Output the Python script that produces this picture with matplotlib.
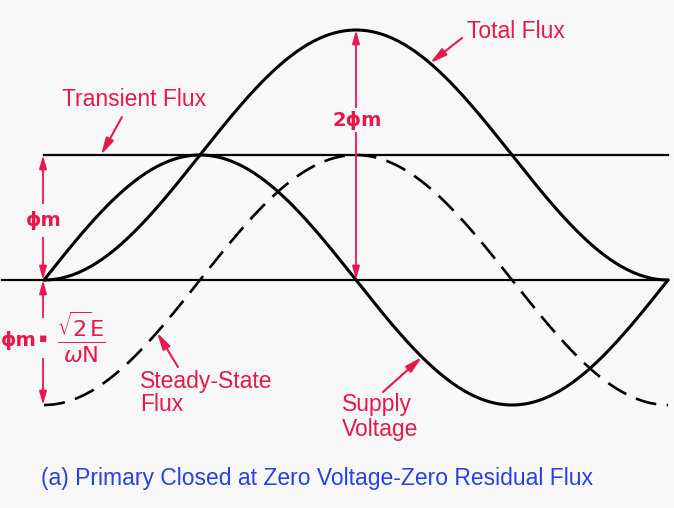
import numpy as np
import matplotlib.pyplot as plt

RED = '#e8184c'
BLUE = '#2840e6'
BG = '#f8f8f8'

# curve parameters (one full cycle, amplitude phi_m)
phi_m = 1.0
theta = np.linspace(0, 2 * np.pi, 600)
supply_voltage = phi_m * np.sin(theta)
steady_flux = -phi_m * np.cos(theta)
transient_flux = phi_m * np.ones_like(theta)
total_flux = transient_flux + steady_flux

caption = '(a) Primary Closed at Zero Voltage-Zero Residual Flux'

# picture pixel -> data coordinates (origin at x=44, y=280; 624 px per cycle, 125 px per phi_m)
X0, XP, Y0, YP = 44, 624, 280, 125


def px(x, y):
    return ((x - X0) / XP * 2 * np.pi, (Y0 - y) / YP)


def tx(x):
    return (x - X0) / XP * 2 * np.pi


fig = plt.figure(figsize=(6.74, 5.08), dpi=100, facecolor=BG)
ax = fig.add_axes([0, 0, 1, 1])
ax.set_facecolor(BG)
ax.set_xlim(tx(0), tx(674))
ax.set_ylim(px(0, 508)[1], px(0, 0)[1])
ax.axis('off')

ax.plot(theta, total_flux, color='black', lw=2.2, solid_capstyle='round')
ax.plot(theta, supply_voltage, color='black', lw=2.2, solid_capstyle='round')
ax.plot(theta, steady_flux, color='black', lw=1.9, linestyle=(0, (8, 4)))
ax.plot(theta, transient_flux, color='black', lw=1.6)
ax.plot([tx(2), 2 * np.pi], [0, 0], color='black', lw=1.6)

arrow = dict(arrowstyle='-|>,head_length=1.0,head_width=0.25', color=RED, lw=1.5,
             shrinkA=0, shrinkB=0)
darrow = dict(arrowstyle='<|-|>,head_length=0.8,head_width=0.22', color=RED, lw=1.3,
              shrinkA=0, shrinkB=0)
lbl = dict(color=RED, fontsize=16.5, family='Liberation Sans')
sym = dict(color=RED, fontsize=14, fontweight='bold', family='DejaVu Sans',
           ha='center', va='center')
box = dict(facecolor=BG, edgecolor='none', pad=1.5)

# Total Flux
t = tx(430)
ax.text(*px(467, 32), 'Total Flux', va='center', ha='left', **lbl)
ax.annotate('', xy=(t, phi_m - phi_m * np.cos(t)), xytext=px(462, 38), arrowprops=arrow)

# Transient Flux
ax.text(*px(62, 100), 'Transient Flux', va='center', ha='left', **lbl)
ax.annotate('', xy=(tx(101), phi_m), xytext=px(122, 117), arrowprops=arrow)

# Steady-State Flux
t = tx(157)
ax.text(*px(140, 393), 'Steady-State\nFlux', va='center', ha='left', linespacing=1.0, **lbl)
ax.annotate('', xy=(t, -phi_m * np.cos(t)), xytext=px(178, 367), arrowprops=arrow)

# Supply Voltage
t = tx(422)
ax.text(*px(342, 417), 'Supply\nVoltage', va='center', ha='left', linespacing=1.1, **lbl)
ax.annotate('', xy=(t, phi_m * np.sin(t)), xytext=px(383, 392), arrowprops=arrow)

# 2 phi_m
ax.annotate('', xy=(np.pi, 2 * phi_m), xytext=(np.pi, 0), arrowprops=darrow)
ax.text(*px(357, 120), '2ϕm', bbox=box, **sym)

# phi_m on the left
xl = tx(43)
ax.annotate('', xy=(xl, phi_m), xytext=(xl, 0), arrowprops=darrow)
ax.text(*px(44, 220), 'ϕm', bbox=dict(facecolor=BG, edgecolor='none', pad=5), **sym)
ax.annotate('', xy=(xl, -phi_m), xytext=(xl, 0), arrowprops=darrow)
ax.text(*px(43, 338), '▪', bbox=dict(facecolor=BG, edgecolor='none', pad=10),
        color=RED, fontsize=9, ha='center', va='center', family='DejaVu Sans')
ax.text(*px(19, 340), 'ϕm', **sym)
ax.text(*px(81, 337), r'$\frac{\sqrt{2}\mathsf{E}}{\omega \mathsf{N}}$', color=RED,
        fontsize=23, ha='center', va='center')

ax.text(*px(317, 478), caption, color=BLUE, fontsize=16.5, family='Liberation Sans',
        ha='center', va='center')

fig.savefig('out.png', dpi=100, facecolor=BG)
